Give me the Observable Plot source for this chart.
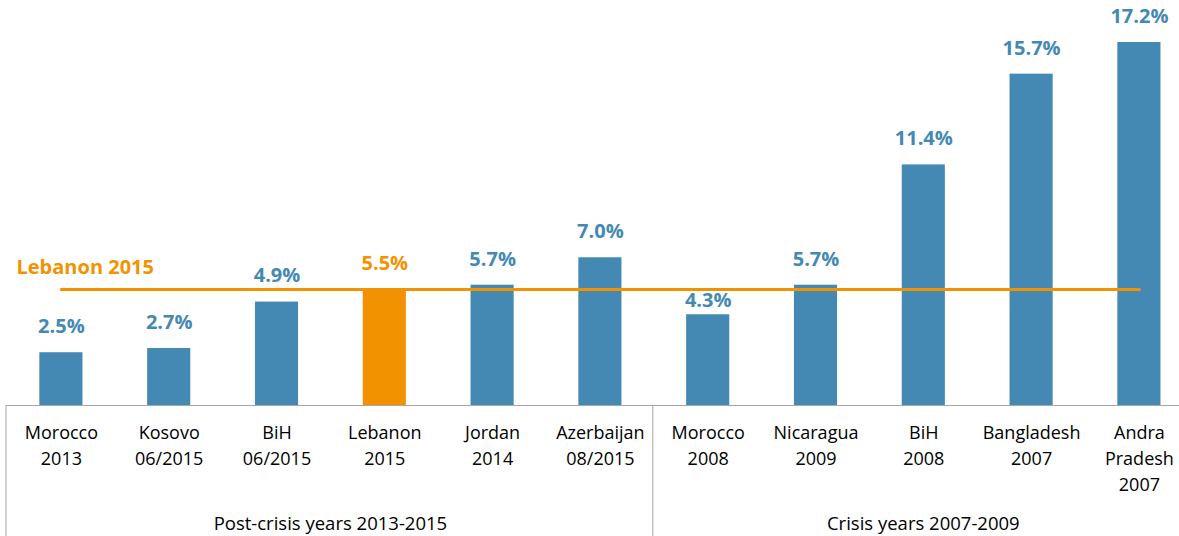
<!DOCTYPE html>
<html>
<head>
<meta charset="utf-8">
<script src="https://cdn.jsdelivr.net/npm/d3@7"></script>
<script src="https://cdn.jsdelivr.net/npm/@observablehq/plot@0.6"></script>
<style>
  html, body { margin: 0; padding: 0; background: #fff; }
  #chart svg { display: block; }
</style>
</head>
<body>
<div id="chart"></div>
<script>
const categories = [
  "Morocco\n2013", "Kosovo\n06/2015", "BiH\n06/2015", "Lebanon\n2015", "Jordan\n2014", "Azerbaijan\n08/2015",
  "Morocco\n2008", "Nicaragua\n2009", "BiH\n2008", "Bangladesh\n2007", "Andra\nPradesh\n2007"
];
const values = [2.5, 2.7, 4.9, 5.5, 5.7, 7.0, 4.3, 5.7, 11.4, 15.7, 17.2];
const groups = ["Post-crisis years 2013-2015", "Post-crisis years 2013-2015", "Post-crisis years 2013-2015",
  "Post-crisis years 2013-2015", "Post-crisis years 2013-2015", "Post-crisis years 2013-2015",
  "Crisis years 2007-2009", "Crisis years 2007-2009", "Crisis years 2007-2009", "Crisis years 2007-2009", "Crisis years 2007-2009"];
const highlight = "Lebanon\n2015";
const referenceLabel = "Lebanon 2015";
const referenceValue = 5.5;

const BLUE = "#4389b3";
const ORANGE = "#f39200";
const FONT = "Open Sans";

const data = categories.map((c, i) => ({category: c, value: values[i], group: groups[i]}));
// a value label that would sit on the reference line is tucked just under it
const isUnder = d => d.category !== highlight && Math.abs(d.value + 1.2 - referenceValue) < 0.5;
const labelsAbove = data.filter(d => !isUnder(d));
const labelsUnder = data.filter(isUnder);

const W = 1179, H = 536;
const step = 107.8;

const plot = Plot.plot({
  width: W,
  height: H,
  margin: 0,
  style: {fontFamily: FONT, fontSize: "18px", color: "#000", background: "#fff"},
  x: {type: "band", domain: categories, range: [7, 7 + categories.length * step], paddingInner: 0.6, paddingOuter: 0.3, round: false, axis: null},
  y: {domain: [0, 17.2], range: [405, 42], axis: null},
  marks: [
    Plot.barY(data, {x: "category", y: "value", fill: d => d.category === highlight ? ORANGE : BLUE}),
    Plot.ruleY([0], {stroke: "#a6a6a6", strokeWidth: 1, insetLeft: 6}),
    Plot.lineY(data, {x: "category", y: () => referenceValue, stroke: ORANGE, strokeWidth: 3}),
    Plot.text(labelsAbove, {x: "category", y: "value", text: d => d.value.toFixed(1) + "%", dy: -26,
      fill: d => d.category === highlight ? ORANGE : BLUE, fontWeight: "bold", fontSize: 20, lineAnchor: "middle"}),
    Plot.text(labelsUnder, {x: "category", y: () => referenceValue, text: d => d.value.toFixed(1) + "%", dy: 11,
      fill: BLUE, fontWeight: "bold", fontSize: 20, lineAnchor: "middle"}),
    Plot.text([referenceLabel], {frameAnchor: "left", y: () => referenceValue, text: d => d, dx: 16, dy: -22,
      textAnchor: "start", fill: ORANGE, fontWeight: "bold", fontSize: 20, lineAnchor: "middle"}),
    Plot.text(data, {x: "category", y: () => 0, text: "category", dy: 15, lineAnchor: "top",
      fontSize: 18, lineHeight: 1.45, fill: "#000"})
  ]
});

// group separators and group labels, positioned through the plot's x scale
const xs = plot.scale("x");
const svg = d3.select(plot);
const groupNames = [...new Set(groups)];
groupNames.forEach(g => {
  const members = categories.filter((c, i) => groups[i] === g);
  const first = xs.apply(members[0]);
  const last = xs.apply(members[members.length - 1]);
  const bw = xs.bandwidth;
  const left = first + bw / 2 - step / 2;
  const right = last + bw / 2 + step / 2;
  svg.append("line").attr("x1", left - 1).attr("x2", left - 1).attr("y1", 405).attr("y2", H)
    .attr("stroke", "#a6a6a6").attr("stroke-width", 1);
  svg.append("text").attr("x", (left + right) / 2).attr("y", 525)
    .attr("text-anchor", "middle").attr("dominant-baseline", "middle")
    .attr("font-family", FONT).attr("font-size", 18.5).attr("fill", "#000").text(g);
});

document.getElementById("chart").appendChild(plot);
</script>
</body>
</html>
